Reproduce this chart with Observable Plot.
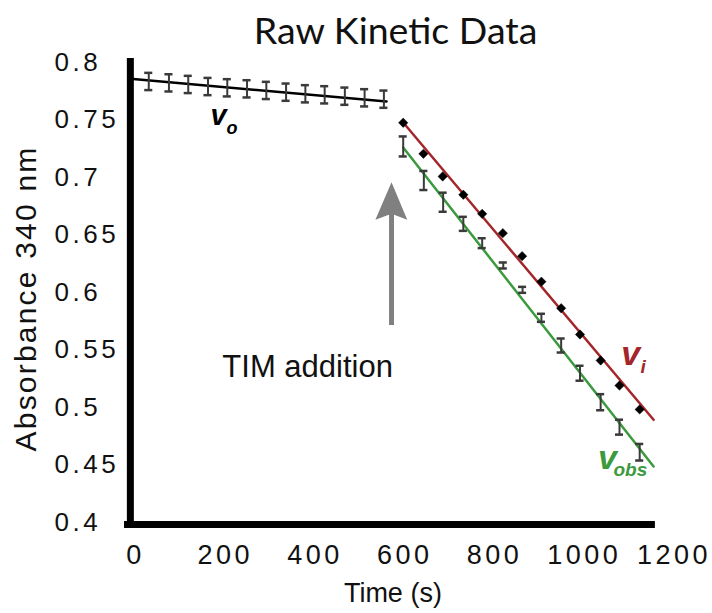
<!DOCTYPE html>
<html>
<head>
<meta charset="utf-8">
<script src="https://cdn.jsdelivr.net/npm/d3@7"></script>
<script src="https://cdn.jsdelivr.net/npm/@observablehq/plot@0.6"></script>
<style>
  body { margin: 0; background: #fff; }
  g[aria-description="ytick"] text { letter-spacing: 3.5px; }
  g[aria-description="xtick"] text { letter-spacing: 3.5px; }
  g[aria-description="ytitle"] text { letter-spacing: 2.2px; }
</style>
</head>
<body>
<div id="chart"></div>
<script>
// ---- data ----
const voTimes  = [34, 79, 122, 166, 209, 253, 296, 340, 383, 426, 471, 515, 558];
const voValues = [0.7835, 0.7823, 0.7809, 0.7791, 0.7780, 0.7771, 0.7757, 0.7742, 0.7728, 0.7719, 0.7707, 0.7693, 0.7681];
const voErr    = [0.0075, 0.0075, 0.0075, 0.0075, 0.0075, 0.0075, 0.0075, 0.0075, 0.0075, 0.0075, 0.0075, 0.0075, 0.0075];

const viTimes  = [601, 646, 689, 735, 777, 823, 866, 909, 953, 995, 1041, 1083, 1128];
const viValues = [0.7476, 0.7206, 0.7009, 0.6850, 0.6684, 0.6516, 0.6316, 0.6094, 0.5863, 0.5635, 0.5409, 0.5191, 0.4983];

const obsTimes  = [601, 647, 690, 735, 777, 824, 867, 909, 953, 995, 1041, 1083, 1128];
const obsValues = [0.7270, 0.6974, 0.6785, 0.6597, 0.6429, 0.6235, 0.6023, 0.5780, 0.5539, 0.5298, 0.5046, 0.4829, 0.4611];
const obsErr    = [0.0087, 0.0083, 0.0083, 0.0061, 0.0043, 0.0026, 0.0026, 0.0035, 0.0061, 0.0065, 0.0070, 0.0065, 0.0072];

// fitted lines (end points)
const voFit  = [{t: -7, v: 0.7858}, {t: 564, v: 0.7661}];
const viFit  = [{t: 601, v: 0.7478}, {t: 1159, v: 0.4893}];
const obsFit = [{t: 601, v: 0.7261}, {t: 1159, v: 0.4487}];

// ticks
const xTicks = [0, 200, 400, 600, 800, 1000, 1200];
const yTicks = [0.8, 0.75, 0.7, 0.65, 0.6, 0.55, 0.5, 0.45, 0.4];
const yTickLabels = ["0.8", "0.75", "0.7", "0.65", "0.6", "0.55", "0.5", "0.45", "0.4"];

// annotations
const arrowShaft = [{t: 575, v1: 0.5713, v2: 0.6684}];
const arrowHead  = [{t: 575, v: 0.6959}, {t: 610, v: 0.6632}, {t: 575, v: 0.6684}, {t: 539, v: 0.6632}, {t: 575, v: 0.6959}];
const axisV = [{t: -7, v1: 0.3955, v2: 0.8035}];
const axisH = [{v: 0.3983, t1: -20, t2: 1163}];

const title = "Raw Kinetic Data";
const xTitle = "Time (s)";
const yTitle = "Absorbance 340 nm";
const annotation = "TIM addition";

const vo  = voTimes.map((t, i) => ({t, v: voValues[i], e: voErr[i]}));
const vi  = viTimes.map((t, i) => ({t, v: viValues[i]}));
const obs = obsTimes.map((t, i) => ({t, v: obsValues[i], e: obsErr[i]}));

const RED = "#a3262a", GREEN = "#3c9a3e", BAR = "#3a3a3a", GRAY = "#808080";
const capHalf = 9;
const SANS = "'Liberation Sans', Arial, sans-serif";

const chart = Plot.plot({
  width: 712,
  height: 613,
  marginLeft: 133,
  marginRight: 40.5,
  marginTop: 62,
  marginBottom: 91,
  style: {fontFamily: SANS, background: "#fff"},
  x: {domain: [0, 1200], axis: null},
  y: {domain: [0.4, 0.8], axis: null},
  marks: [
    // axes lines
    Plot.ruleX(axisV, {x: "t", y1: "v1", y2: "v2", stroke: "black", strokeWidth: 7}),
    Plot.ruleY(axisH, {y: "v", x1: "t1", x2: "t2", stroke: "black", strokeWidth: 7}),
    // tick labels
    Plot.text(yTicks, {y: d => d, text: (d, i) => yTickLabels[i], frameAnchor: "left", textAnchor: "start", lineAnchor: "middle", dx: -79, fontSize: 26, fill: "#111", ariaDescription: "ytick"}),
    Plot.text(xTicks, {x: d => d, text: d => String(d), frameAnchor: "bottom", lineAnchor: "middle", dy: 33, dx: 2, fontSize: 27, fill: "#111", ariaDescription: "xtick"}),
    // axis titles
    Plot.text([yTitle], {frameAnchor: "left", textAnchor: "middle", lineAnchor: "middle", dx: -107, rotate: -90, fontSize: 30, fill: "#111", ariaDescription: "ytitle", y: [0.5948]}),
    Plot.text([xTitle], {x: [578], frameAnchor: "bottom", lineAnchor: "middle", dy: 71, fontSize: 27, fill: "#111"}),
    Plot.text([title], {x: [584], frameAnchor: "top", lineAnchor: "middle", dy: -31, fontSize: 37.5, fill: "#111", fontFamily: "Lato"}),
    // arrow
    Plot.ruleX(arrowShaft, {x: "t", y1: "v1", y2: "v2", stroke: GRAY, strokeWidth: 5}),
    Plot.line(arrowHead, {x: "t", y: "v", fill: GRAY, stroke: "none"}),
    Plot.text([annotation], {x: [388], y: [0.5348], fontSize: 31, fill: "#111"}),
    // vo
    Plot.line(voFit, {x: "t", y: "v", stroke: "black", strokeWidth: 2.5}),
    Plot.ruleX(vo, {x: "t", y1: d => d.v - d.e, y2: d => d.v + d.e, stroke: BAR, strokeWidth: 2}),
    Plot.ruleY(vo, {y: d => d.v - d.e, x1: d => d.t - capHalf, x2: d => d.t + capHalf, stroke: BAR, strokeWidth: 2.5}),
    Plot.ruleY(vo, {y: d => d.v + d.e, x1: d => d.t - capHalf, x2: d => d.t + capHalf, stroke: BAR, strokeWidth: 2.5}),
    // vi
    Plot.line(viFit, {x: "t", y: "v", stroke: RED, strokeWidth: 2.5}),
    Plot.dot(vi, {x: "t", y: "v", symbol: "diamond2", r: 4.2, fill: "black", stroke: "black", strokeWidth: 0.5}),
    // vobs
    Plot.line(obsFit, {x: "t", y: "v", stroke: GREEN, strokeWidth: 2.5}),
    Plot.ruleX(obs, {x: "t", y1: d => d.v - d.e, y2: d => d.v + d.e, stroke: BAR, strokeWidth: 2}),
    Plot.ruleY(obs, {y: d => d.v - d.e, x1: d => d.t - capHalf, x2: d => d.t + capHalf, stroke: BAR, strokeWidth: 2.5}),
    Plot.ruleY(obs, {y: d => d.v + d.e, x1: d => d.t - capHalf, x2: d => d.t + capHalf, stroke: BAR, strokeWidth: 2.5}),
    // labels
    Plot.text(["v"], {x: [189.5], y: [0.7535], fontSize: 29, fontWeight: "bold", fontStyle: "italic", fill: "black"}),
    Plot.text(["o"], {x: [207], y: [0.7426], textAnchor: "start", fontSize: 18, fontWeight: "bold", fontStyle: "italic", fill: "black"}),
    Plot.text(["v"], {x: [1108], y: [0.5461], fontSize: 34, fontWeight: "bold", fontStyle: "italic", fill: RED}),
    Plot.text(["i"], {x: [1130], y: [0.5352], textAnchor: "start", fontSize: 19, fontWeight: "bold", fontStyle: "italic", fill: RED}),
    Plot.text(["v"], {x: [1056], y: [0.4557], fontSize: 34, fontWeight: "bold", fontStyle: "italic", fill: GREEN}),
    Plot.text(["obs"], {x: [1069.5], y: [0.4457], textAnchor: "start", fontSize: 19, fontWeight: "bold", fontStyle: "italic", fill: GREEN})
  ]
});
document.getElementById("chart").appendChild(chart);
</script>
</body>
</html>
